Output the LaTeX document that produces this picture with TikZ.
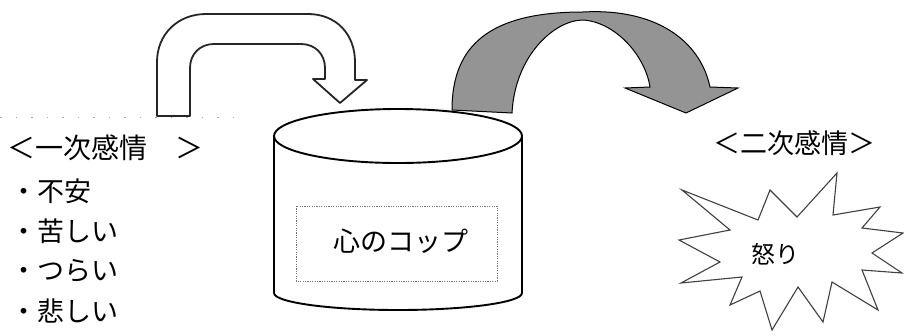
\documentclass[tikz,border=0pt]{standalone}
\usepackage{fontspec}
\newfontfamily\jp{Noto Sans CJK JP}
\begin{document}
\begin{tikzpicture}[x=1pt,y=-1pt,
  jt/.style={font=\jp\fontsize{#1}{#1}\selectfont, inner sep=0pt},
  jt/.default=26,
  outline/.style={draw=black!85, line width=1.8pt, line join=round},
  grayarrow/.style={draw=black, fill=black!42, line width=1pt, line join=miter},
  burst/.style={draw=black!75, line width=1.1pt, fill=white, line join=miter},
  innerbox/.style={draw=black!55, line width=0.6pt, dash pattern=on 1.2pt off 1.2pt},
  faint/.style={draw=black!35, line width=0.8pt, dash pattern=on 1.5pt off 14pt}]
\useasboundingbox (0,0) rectangle (904,335);

% faint dotted edge of a text box
\coordinate (f1) at (0,117);
\coordinate (f2) at (245,117);
\draw[faint] (f1) -- (f2);

% hollow bent arrow
\draw[outline, fill=white]
  (157,116) -- (157,62) .. controls (157,34) and (178,14) .. (206,14)
  -- (308,14) .. controls (336,14) and (355,34) .. (355,62)
  -- (355,80) -- (367,80) -- (340,103) -- (313,79) -- (325,79)
  -- (325,68) .. controls (325,54) and (315,44) .. (301,44)
  -- (214,44) .. controls (200,44) and (190,54) .. (190,68)
  -- (190,116) -- cycle;

% gray curved arrow
\draw[grayarrow]
  (512,113) .. controls (515,55) and (555,20) .. (583,20)
  .. controls (615,22) and (645,55) .. (650,87)
  -- (625,88) -- (686,113) -- (738,88) -- (710,87)
  .. controls (700,40) and (655,8) .. (583,12)
  .. controls (490,12) and (452,45) .. (452,110) -- cycle;

% cylinder
\draw[line width=1.9pt, fill=white, line join=round]
  (274,136) -- (274,293) arc[start angle=180, end angle=360, x radius=124pt, y radius=17pt]
  -- (522,136);
\draw[line width=1.9pt, fill=white] (398,136) ellipse[x radius=124pt, y radius=27pt];
\draw[innerbox] (296,206) rectangle (497,281);
\node[jt=27] (cup) at (401,241) {心のコップ};

% explosion
\draw[burst]
  (837,173) -- (797,217) -- (770,190) -- (758,220) -- (682,190) -- (730,230)
  -- (679,240) -- (720,262) -- (681,283) -- (742,277) -- (730,305) -- (760,291)
  -- (772,330) -- (798,287) -- (823,322) -- (832,282) -- (878,310) -- (862,270)
  -- (902,273) -- (872,253) -- (903,233) -- (862,228) -- (880,207) -- (833,215)
  -- cycle;
\node[jt=24] (anger) at (775,254) {怒り};

% labels
\node[jt=28, anchor=west] (first) at (7,148) {＜一次感情　＞};
\node[jt=27] (second) at (794,143) {＜二次感情＞};
\node[jt=27, anchor=west] (i1) at (10,191) {・不安};
\node[jt=27, anchor=west] (i2) at (10,231) {・苦しい};
\node[jt=27, anchor=west] (i3) at (10,271) {・つらい};
\node[jt=27, anchor=west] (i4) at (10,311) {・悲しい};
\end{tikzpicture}
\end{document}
